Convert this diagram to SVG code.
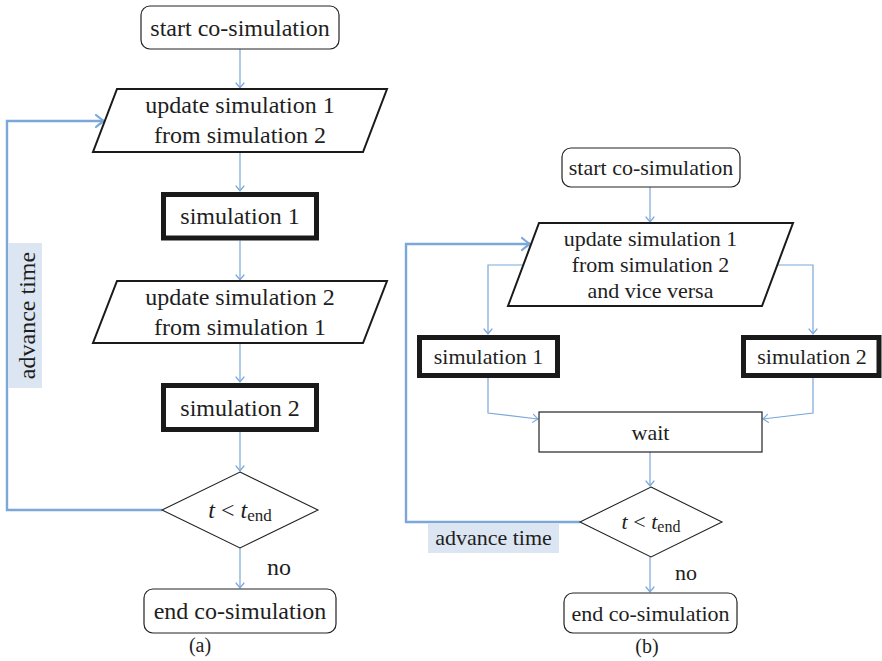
<svg xmlns="http://www.w3.org/2000/svg" width="882" height="661" viewBox="0 0 882 661" style="font-family:'Liberation Serif',serif">
<defs>
<marker id="ah" markerUnits="userSpaceOnUse" markerWidth="12" markerHeight="12" refX="0" refY="0" viewBox="-7 -6 8 12" orient="auto" overflow="visible">
<path d="M-5,-4 Q-1.5,-1 0,0 Q-1.5,1 -5,4" fill="none" stroke="#7ba7d9" stroke-width="1.2" stroke-linecap="round"/>
</marker>
<marker id="ahb" markerUnits="userSpaceOnUse" markerWidth="16" markerHeight="16" refX="0" refY="0" viewBox="-10 -8 12 16" orient="auto" overflow="visible">
<path d="M-8,-6 Q-2.5,-1.5 0,0 Q-2.5,1.5 -8,6" fill="none" stroke="#7ba7d9" stroke-width="2.2" stroke-linecap="round"/>
</marker>
</defs>
<style>
text{font-family:'Liberation Serif',serif;fill:#1e1e1e;text-anchor:middle}
.a text{font-size:24px}
.b text{font-size:22px}
.rnd{fill:#fff;stroke:#222;stroke-width:1.2}
.par{fill:#fff;stroke:#1a1a1a;stroke-width:2}
.sim{fill:#fff;stroke:#1a1a1a;stroke-width:5}
.dia{fill:#fff;stroke:#222;stroke-width:1.1}
.c{fill:none;stroke:#7ba7d9;stroke-width:1.2;marker-end:url(#ah)}
.lp{fill:none;stroke:#7ba7d9;stroke-width:2.4;marker-end:url(#ahb)}
.lbl{fill:#dce6f2}
.st{text-anchor:start}
.a text.cap,.b text.cap{font-size:20px}
.a tspan.sub{font-size:17px}
.b tspan.sub{font-size:16px}
.it{font-style:italic}
</style>

<g id="connectors">
<path class="c" d="M240,49 V88"/>
<path class="c" d="M240,152 V191"/>
<path class="c" d="M240,240.5 V280"/>
<path class="c" d="M240,343 V382"/>
<path class="c" d="M240,432 V471"/>
<path class="c" d="M240,548 V588"/>
<path class="lp" d="M162,510 H7 V121 H104"/>
<path class="c" d="M650,187 V222"/>
<path class="c" d="M523,265 H488 V334"/>
<path class="c" d="M777,265 H813 V334"/>
<path class="c" d="M488,378 V413 L538,419"/>
<path class="c" d="M813,378 V413 L763,419"/>
<path class="c" d="M650,452 V486"/>
<path class="c" d="M650,557 V592"/>
<path class="lp" d="M580,522 H406 V244 H530"/>
</g>

<g class="a">
<g id="a_start"><rect class="rnd" x="141" y="6" width="198" height="43" rx="9"/><text x="240" y="36">start co-simulation</text></g>
<g id="a_update1"><polygon class="par" points="117,89 387,89 363,152 93,152"/><text x="240" y="113">update simulation 1</text><text x="240" y="143">from simulation 2</text></g>
<g id="a_sim1"><rect class="sim" x="163.5" y="194.5" width="153" height="43.5"/><text x="240" y="224">simulation 1</text></g>
<g id="a_update2"><polygon class="par" points="117,281 387,281 363,343 93,343"/><text x="240" y="305">update simulation 2</text><text x="240" y="335">from simulation 1</text></g>
<g id="a_sim2"><rect class="sim" x="163.5" y="385.5" width="153" height="44"/><text x="240" y="415.5">simulation 2</text></g>
<g id="a_cond"><polygon class="dia" points="240,472 318,510 240,548 162,510"/><text x="240" y="518"><tspan class="it">t</tspan> &lt; <tspan class="it">t</tspan><tspan class="sub" dy="3">end</tspan></text></g>
<g id="a_end"><rect class="rnd" x="144" y="589" width="192" height="44" rx="9"/><text x="240" y="619">end co-simulation</text></g>
<g id="a_labels">
<text class="st" x="267" y="575">no</text>
<rect class="lbl" x="8" y="243" width="34" height="145"/>
<text transform="translate(35,315.5) rotate(-90)">advance time</text>
<text class="cap" x="200" y="652">(a)</text>
</g>
</g>

<g class="b">
<g id="b_start"><rect class="rnd" x="562" y="148" width="178" height="39" rx="9"/><text x="651" y="175">start co-simulation</text></g>
<g id="b_update"><polygon class="par" points="539,223 793,223 762,306 508,306"/><text x="650.5" y="246">update simulation 1</text><text x="650.5" y="272">from simulation 2</text><text x="650.5" y="298">and vice versa</text></g>
<g id="b_sim1"><rect class="sim" x="419.5" y="337.5" width="138" height="38"/><text x="488.5" y="364">simulation 1</text></g>
<g id="b_sim2"><rect class="sim" x="743.5" y="337.5" width="135.5" height="38"/><text x="812" y="364">simulation 2</text></g>
<g id="b_wait"><rect class="rnd" x="539" y="412" width="223" height="40"/><text x="650.5" y="439.5">wait</text></g>
<g id="b_cond"><polygon class="dia" points="651,487 722,522 651,557 580,522"/><text x="651" y="529"><tspan class="it">t</tspan> &lt; <tspan class="it">t</tspan><tspan class="sub" dy="3">end</tspan></text></g>
<g id="b_end"><rect class="rnd" x="564" y="593" width="173" height="40" rx="9"/><text x="650.5" y="620.5">end co-simulation</text></g>
<g id="b_labels">
<text class="st" x="675" y="580">no</text>
<rect class="lbl" x="428" y="523" width="131" height="30"/>
<text x="493.5" y="545">advance time</text>
<text class="cap" x="647" y="653">(b)</text>
</g>
</g>
</svg>
